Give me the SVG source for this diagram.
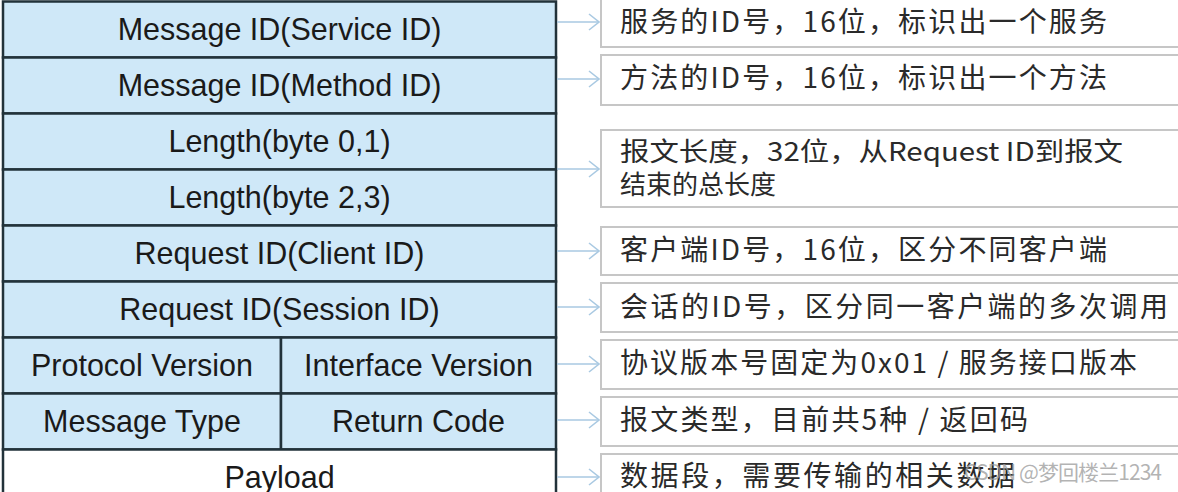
<svg xmlns="http://www.w3.org/2000/svg" width="1178" height="492" viewBox="0 0 1178 492">
<style>
.cell{fill:#cfe8f8;stroke:#22323a;stroke-width:2.5}
.cellw{fill:#ffffff;stroke:#22323a;stroke-width:2.5}
.lt{font-family:"Liberation Sans",Arial,sans-serif;font-size:30.5px;fill:#1a1a1a;text-anchor:middle}
.box{fill:#ffffff;stroke:#c6c6c6;stroke-width:2}
.rt{font-family:"Noto Sans CJK SC","Noto Sans",sans-serif;font-size:28px;fill:#2a2a2a}
.rt2{font-family:"Noto Sans CJK SC","Noto Sans",sans-serif;font-size:26px;fill:#2a2a2a}
.conn{stroke:#a9c9e2;stroke-width:1.6;fill:none}
.wm{font-family:"Noto Sans CJK SC","Liberation Sans",sans-serif;font-size:21px;fill:#9a9a9a;fill-opacity:0.75}
</style>
<defs>
<marker id="ah" viewBox="0 0 12 18" refX="11" refY="9" markerWidth="12" markerHeight="18" markerUnits="userSpaceOnUse" orient="auto">
<path d="M1,1 L11,9 L1,17" fill="none" stroke="#a9c9e2" stroke-width="1.6"/>
</marker>
</defs>
<rect width="1178" height="492" fill="#ffffff"/>

<g id="table">
<g id="row-service"><rect class="cell" x="3" y="1.5" width="553" height="56"/><text class="lt" x="279.5" y="40">Message ID(Service ID)</text></g>
<g id="row-method"><rect class="cell" x="3" y="57.5" width="553" height="56"/><text class="lt" x="279.5" y="96">Message ID(Method ID)</text></g>
<g id="row-len1"><rect class="cell" x="3" y="113.5" width="553" height="56"/><text class="lt" x="279.5" y="152">Length(byte 0,1)</text></g>
<g id="row-len2"><rect class="cell" x="3" y="169.5" width="553" height="56"/><text class="lt" x="279.5" y="208">Length(byte 2,3)</text></g>
<g id="row-client"><rect class="cell" x="3" y="225.5" width="553" height="56"/><text class="lt" x="279.5" y="264">Request ID(Client ID)</text></g>
<g id="row-session"><rect class="cell" x="3" y="281.5" width="553" height="56"/><text class="lt" x="279.5" y="320">Request ID(Session ID)</text></g>
<g id="row-protocol"><rect class="cell" x="3" y="337.5" width="278" height="56"/><text class="lt" x="142" y="376">Protocol Version</text></g>
<g id="row-interface"><rect class="cell" x="281" y="337.5" width="275" height="56"/><text class="lt" x="418.5" y="376">Interface Version</text></g>
<g id="row-msgtype"><rect class="cell" x="3" y="393.5" width="278" height="56"/><text class="lt" x="142" y="432">Message Type</text></g>
<g id="row-retcode"><rect class="cell" x="281" y="393.5" width="275" height="56"/><text class="lt" x="418.5" y="432">Return Code</text></g>
<g id="row-payload"><rect class="cellw" x="3" y="449.5" width="553" height="60"/><text class="lt" x="279.5" y="488">Payload</text></g>
</g>

<g id="desc-service"><rect class="box" x="601" y="-3" width="600" height="50"/><text class="rt" x="620" y="32" textLength="487" lengthAdjust="spacing">服务的ID号，16位，标识出一个服务</text></g>
<g id="desc-method"><rect class="box" x="601" y="55" width="600" height="50"/><text class="rt" x="620" y="88" textLength="487" lengthAdjust="spacing">方法的ID号，16位，标识出一个方法</text></g>
<g id="desc-length"><rect class="box" x="601" y="130" width="600" height="77"/><text class="rt2" x="620" y="161" textLength="503" lengthAdjust="spacingAndGlyphs">报文长度，32位，从Request ID到报文</text><text class="rt2" x="620" y="194" textLength="156" lengthAdjust="spacingAndGlyphs">结束的总长度</text></g>
<g id="desc-client"><rect class="box" x="601" y="227" width="600" height="48"/><text class="rt" x="620" y="260" textLength="487" lengthAdjust="spacing">客户端ID号，16位，区分不同客户端</text></g>
<g id="desc-session"><rect class="box" x="601" y="283" width="600" height="49"/><text class="rt" x="620" y="317" textLength="548" lengthAdjust="spacing">会话的ID号，区分同一客户端的多次调用</text></g>
<g id="desc-version"><rect class="box" x="601" y="340" width="600" height="49"/><text class="rt" x="620" y="373" textLength="517" lengthAdjust="spacing">协议版本号固定为0x01 / 服务接口版本</text></g>
<g id="desc-type"><rect class="box" x="601" y="397" width="600" height="49"/><text class="rt" x="620" y="430" textLength="408" lengthAdjust="spacing">报文类型，目前共5种 / 返回码</text></g>
<g id="desc-payload"><rect class="box" x="601" y="454" width="600" height="60"/><text class="rt" x="620" y="486" textLength="395" lengthAdjust="spacing">数据段，需要传输的相关数据</text></g>

<g id="connectors">
<line class="conn" x1="557" y1="22" x2="599" y2="22" marker-end="url(#ah)"/>
<line class="conn" x1="557" y1="79" x2="599" y2="79" marker-end="url(#ah)"/>
<line class="conn" x1="557" y1="169" x2="599" y2="169" marker-end="url(#ah)"/>
<line class="conn" x1="557" y1="251" x2="599" y2="251" marker-end="url(#ah)"/>
<line class="conn" x1="557" y1="307" x2="599" y2="307" marker-end="url(#ah)"/>
<line class="conn" x1="557" y1="364" x2="599" y2="364" marker-end="url(#ah)"/>
<line class="conn" x1="557" y1="420" x2="599" y2="420" marker-end="url(#ah)"/>
<line class="conn" x1="557" y1="477" x2="599" y2="477" marker-end="url(#ah)"/>
</g>

<text class="wm" x="964" y="480" textLength="198" lengthAdjust="spacing">CSDN @梦回楼兰1234</text>
</svg>
